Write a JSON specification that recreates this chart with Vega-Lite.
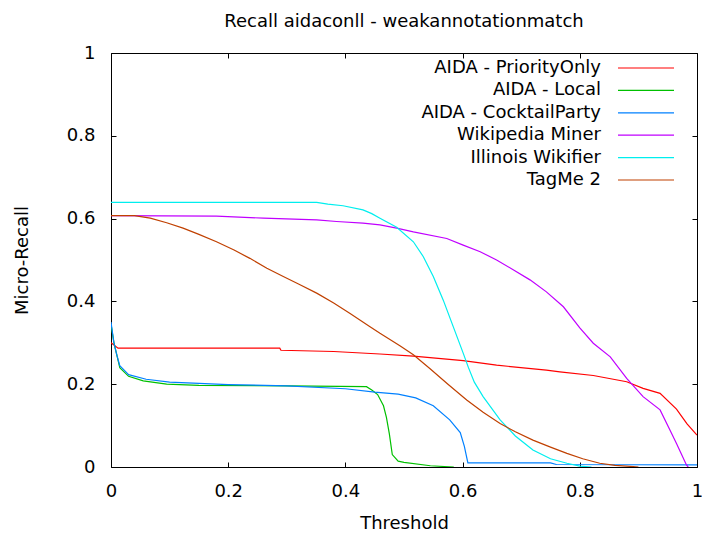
{
  "$schema": "https://vega.github.io/schema/vega-lite/v6.json",
  "width": 586,
  "height": 414,
  "autosize": {"type": "none"},
  "padding": {"left": 111, "top": 53, "right": 5, "bottom": 66},
  "background": "white",
  "title": {
    "text": "Recall aidaconll - weakannotationmatch",
    "font": "DejaVu Sans",
    "fontSize": 18,
    "fontWeight": "normal",
    "color": "black",
    "anchor": "middle",
    "offset": 13
  },
  "config": {
    "view": {"stroke": "black", "strokeWidth": 1},
    "axis": {
      "grid": false,
      "domain": false,
      "tickColor": "black",
      "tickSize": -5,
      "tickWidth": 1,
      "labelFlush": false,
      "labelFont": "DejaVu Sans",
      "labelFontSize": 18,
      "labelColor": "black",
      "titleFont": "DejaVu Sans",
      "titleFontSize": 18,
      "titleFontWeight": "normal",
      "titleColor": "black"
    },
    "legend": {
      "labelFont": "DejaVu Sans",
      "labelFontSize": 18,
      "labelColor": "black"
    }
  },
  "layer": [
    {
      "data": {
        "values": [
          {"m": "AIDA - PriorityOnly", "t": 0, "r": 0.30},
          {"m": "AIDA - PriorityOnly", "t": 0.012, "r": 0.287},
          {"m": "AIDA - PriorityOnly", "t": 0.288, "r": 0.287},
          {"m": "AIDA - PriorityOnly", "t": 0.29, "r": 0.282},
          {"m": "AIDA - PriorityOnly", "t": 0.38, "r": 0.279},
          {"m": "AIDA - PriorityOnly", "t": 0.459, "r": 0.273},
          {"m": "AIDA - PriorityOnly", "t": 0.516, "r": 0.268},
          {"m": "AIDA - PriorityOnly", "t": 0.601, "r": 0.257},
          {"m": "AIDA - PriorityOnly", "t": 0.658, "r": 0.246},
          {"m": "AIDA - PriorityOnly", "t": 0.743, "r": 0.234},
          {"m": "AIDA - PriorityOnly", "t": 0.766, "r": 0.23},
          {"m": "AIDA - PriorityOnly", "t": 0.823, "r": 0.221},
          {"m": "AIDA - PriorityOnly", "t": 0.88, "r": 0.206},
          {"m": "AIDA - PriorityOnly", "t": 0.908, "r": 0.19},
          {"m": "AIDA - PriorityOnly", "t": 0.937, "r": 0.178},
          {"m": "AIDA - PriorityOnly", "t": 0.965, "r": 0.14},
          {"m": "AIDA - PriorityOnly", "t": 0.983, "r": 0.104},
          {"m": "AIDA - PriorityOnly", "t": 1.0, "r": 0.077},

          {"m": "AIDA - Local", "t": 0, "r": 0.345},
          {"m": "AIDA - Local", "t": 0.005, "r": 0.3},
          {"m": "AIDA - Local", "t": 0.01, "r": 0.27},
          {"m": "AIDA - Local", "t": 0.015, "r": 0.24},
          {"m": "AIDA - Local", "t": 0.03, "r": 0.219},
          {"m": "AIDA - Local", "t": 0.055, "r": 0.208},
          {"m": "AIDA - Local", "t": 0.095, "r": 0.2},
          {"m": "AIDA - Local", "t": 0.15, "r": 0.197},
          {"m": "AIDA - Local", "t": 0.3, "r": 0.196},
          {"m": "AIDA - Local", "t": 0.436, "r": 0.194},
          {"m": "AIDA - Local", "t": 0.445, "r": 0.186},
          {"m": "AIDA - Local", "t": 0.455, "r": 0.175},
          {"m": "AIDA - Local", "t": 0.465, "r": 0.148},
          {"m": "AIDA - Local", "t": 0.47, "r": 0.12},
          {"m": "AIDA - Local", "t": 0.475, "r": 0.08},
          {"m": "AIDA - Local", "t": 0.48, "r": 0.03},
          {"m": "AIDA - Local", "t": 0.49, "r": 0.014},
          {"m": "AIDA - Local", "t": 0.5, "r": 0.011},
          {"m": "AIDA - Local", "t": 0.545, "r": 0.003},
          {"m": "AIDA - Local", "t": 0.585, "r": 0.0},

          {"m": "AIDA - CocktailParty", "t": 0, "r": 0.35},
          {"m": "AIDA - CocktailParty", "t": 0.005, "r": 0.3},
          {"m": "AIDA - CocktailParty", "t": 0.01, "r": 0.27},
          {"m": "AIDA - CocktailParty", "t": 0.015, "r": 0.245},
          {"m": "AIDA - CocktailParty", "t": 0.03, "r": 0.223},
          {"m": "AIDA - CocktailParty", "t": 0.06, "r": 0.212},
          {"m": "AIDA - CocktailParty", "t": 0.1, "r": 0.205},
          {"m": "AIDA - CocktailParty", "t": 0.2, "r": 0.199},
          {"m": "AIDA - CocktailParty", "t": 0.3, "r": 0.196},
          {"m": "AIDA - CocktailParty", "t": 0.4, "r": 0.189},
          {"m": "AIDA - CocktailParty", "t": 0.45, "r": 0.181},
          {"m": "AIDA - CocktailParty", "t": 0.49, "r": 0.176},
          {"m": "AIDA - CocktailParty", "t": 0.52, "r": 0.167},
          {"m": "AIDA - CocktailParty", "t": 0.55, "r": 0.148},
          {"m": "AIDA - CocktailParty", "t": 0.578, "r": 0.114},
          {"m": "AIDA - CocktailParty", "t": 0.596, "r": 0.083},
          {"m": "AIDA - CocktailParty", "t": 0.603, "r": 0.05},
          {"m": "AIDA - CocktailParty", "t": 0.609, "r": 0.01},
          {"m": "AIDA - CocktailParty", "t": 0.75, "r": 0.01},
          {"m": "AIDA - CocktailParty", "t": 0.76, "r": 0.006},
          {"m": "AIDA - CocktailParty", "t": 1.0, "r": 0.005},

          {"m": "Wikipedia Miner", "t": 0, "r": 0.607},
          {"m": "Wikipedia Miner", "t": 0.18, "r": 0.606},
          {"m": "Wikipedia Miner", "t": 0.26, "r": 0.601},
          {"m": "Wikipedia Miner", "t": 0.351, "r": 0.597},
          {"m": "Wikipedia Miner", "t": 0.385, "r": 0.593},
          {"m": "Wikipedia Miner", "t": 0.43, "r": 0.589},
          {"m": "Wikipedia Miner", "t": 0.459, "r": 0.585},
          {"m": "Wikipedia Miner", "t": 0.4875, "r": 0.577},
          {"m": "Wikipedia Miner", "t": 0.516, "r": 0.568},
          {"m": "Wikipedia Miner", "t": 0.573, "r": 0.552},
          {"m": "Wikipedia Miner", "t": 0.601, "r": 0.536},
          {"m": "Wikipedia Miner", "t": 0.63, "r": 0.52},
          {"m": "Wikipedia Miner", "t": 0.658, "r": 0.5},
          {"m": "Wikipedia Miner", "t": 0.687, "r": 0.476},
          {"m": "Wikipedia Miner", "t": 0.715, "r": 0.452},
          {"m": "Wikipedia Miner", "t": 0.743, "r": 0.423},
          {"m": "Wikipedia Miner", "t": 0.772, "r": 0.387},
          {"m": "Wikipedia Miner", "t": 0.8, "r": 0.336},
          {"m": "Wikipedia Miner", "t": 0.823, "r": 0.299},
          {"m": "Wikipedia Miner", "t": 0.852, "r": 0.266},
          {"m": "Wikipedia Miner", "t": 0.88, "r": 0.214},
          {"m": "Wikipedia Miner", "t": 0.908, "r": 0.17},
          {"m": "Wikipedia Miner", "t": 0.937, "r": 0.138},
          {"m": "Wikipedia Miner", "t": 0.954, "r": 0.089},
          {"m": "Wikipedia Miner", "t": 0.965, "r": 0.057},
          {"m": "Wikipedia Miner", "t": 0.982, "r": 0.005},
          {"m": "Wikipedia Miner", "t": 0.985, "r": 0.0},

          {"m": "Illinois Wikifier", "t": 0, "r": 0.639},
          {"m": "Illinois Wikifier", "t": 0.351, "r": 0.639},
          {"m": "Illinois Wikifier", "t": 0.37, "r": 0.635},
          {"m": "Illinois Wikifier", "t": 0.396, "r": 0.631},
          {"m": "Illinois Wikifier", "t": 0.43, "r": 0.621},
          {"m": "Illinois Wikifier", "t": 0.445, "r": 0.612},
          {"m": "Illinois Wikifier", "t": 0.459, "r": 0.601},
          {"m": "Illinois Wikifier", "t": 0.4875, "r": 0.579},
          {"m": "Illinois Wikifier", "t": 0.516, "r": 0.544},
          {"m": "Illinois Wikifier", "t": 0.533, "r": 0.508},
          {"m": "Illinois Wikifier", "t": 0.55, "r": 0.46},
          {"m": "Illinois Wikifier", "t": 0.567, "r": 0.403},
          {"m": "Illinois Wikifier", "t": 0.584, "r": 0.339},
          {"m": "Illinois Wikifier", "t": 0.601, "r": 0.275},
          {"m": "Illinois Wikifier", "t": 0.61, "r": 0.24},
          {"m": "Illinois Wikifier", "t": 0.62, "r": 0.205},
          {"m": "Illinois Wikifier", "t": 0.635, "r": 0.17},
          {"m": "Illinois Wikifier", "t": 0.664, "r": 0.114},
          {"m": "Illinois Wikifier", "t": 0.69, "r": 0.075},
          {"m": "Illinois Wikifier", "t": 0.72, "r": 0.041},
          {"m": "Illinois Wikifier", "t": 0.75, "r": 0.02},
          {"m": "Illinois Wikifier", "t": 0.778, "r": 0.009},
          {"m": "Illinois Wikifier", "t": 0.8, "r": 0.002},
          {"m": "Illinois Wikifier", "t": 0.82, "r": 0.0},

          {"m": "TagMe 2", "t": 0, "r": 0.607},
          {"m": "TagMe 2", "t": 0.04, "r": 0.607},
          {"m": "TagMe 2", "t": 0.067, "r": 0.601},
          {"m": "TagMe 2", "t": 0.095, "r": 0.59},
          {"m": "TagMe 2", "t": 0.123, "r": 0.577},
          {"m": "TagMe 2", "t": 0.15, "r": 0.562},
          {"m": "TagMe 2", "t": 0.18, "r": 0.544},
          {"m": "TagMe 2", "t": 0.21, "r": 0.524},
          {"m": "TagMe 2", "t": 0.237, "r": 0.504},
          {"m": "TagMe 2", "t": 0.266, "r": 0.48},
          {"m": "TagMe 2", "t": 0.294, "r": 0.46},
          {"m": "TagMe 2", "t": 0.32, "r": 0.442},
          {"m": "TagMe 2", "t": 0.351, "r": 0.42},
          {"m": "TagMe 2", "t": 0.38, "r": 0.396},
          {"m": "TagMe 2", "t": 0.408, "r": 0.371},
          {"m": "TagMe 2", "t": 0.442, "r": 0.339},
          {"m": "TagMe 2", "t": 0.459, "r": 0.323},
          {"m": "TagMe 2", "t": 0.493, "r": 0.293},
          {"m": "TagMe 2", "t": 0.516, "r": 0.271},
          {"m": "TagMe 2", "t": 0.544, "r": 0.238},
          {"m": "TagMe 2", "t": 0.575, "r": 0.2},
          {"m": "TagMe 2", "t": 0.607, "r": 0.162},
          {"m": "TagMe 2", "t": 0.635, "r": 0.132},
          {"m": "TagMe 2", "t": 0.664, "r": 0.105},
          {"m": "TagMe 2", "t": 0.69, "r": 0.085},
          {"m": "TagMe 2", "t": 0.72, "r": 0.065},
          {"m": "TagMe 2", "t": 0.75, "r": 0.048},
          {"m": "TagMe 2", "t": 0.778, "r": 0.033},
          {"m": "TagMe 2", "t": 0.805, "r": 0.02},
          {"m": "TagMe 2", "t": 0.834, "r": 0.009},
          {"m": "TagMe 2", "t": 0.86, "r": 0.004},
          {"m": "TagMe 2", "t": 0.891, "r": 0.001},
          {"m": "TagMe 2", "t": 0.9, "r": 0.0}
        ]
      },
      "mark": {"type": "line", "strokeWidth": 1.2, "clip": true},
      "encoding": {
        "x": {
          "field": "t",
          "type": "quantitative",
          "scale": {"domain": [0, 1], "nice": false, "zero": false},
          "axis": {
            "orient": "bottom",
            "values": [0, 0.2, 0.4, 0.6, 0.8, 1],
            "format": "~g",
            "labelPadding": 20,
            "title": "Threshold",
            "titlePadding": 14
          }
        },
        "y": {
          "field": "r",
          "type": "quantitative",
          "scale": {"domain": [0, 1], "nice": false, "zero": false},
          "axis": {
            "orient": "left",
            "values": [0, 0.2, 0.4, 0.6, 0.8, 1],
            "format": "~g",
            "labelPadding": 21,
            "title": "Micro-Recall",
            "titlePadding": 35
          }
        },
        "color": {
          "field": "m",
          "type": "nominal",
          "scale": {
            "domain": ["AIDA - PriorityOnly", "AIDA - Local", "AIDA - CocktailParty", "Wikipedia Miner", "Illinois Wikifier", "TagMe 2"],
            "range": ["#ff0000", "#00c000", "#0080ff", "#c000ff", "#00eeee", "#c04000"]
          },
          "legend": {
            "title": null,
            "orient": "none",
            "legendX": 526,
            "legendY": 6,
            "padding": 0,
            "symbolType": "M-4,0H4",
            "symbolSize": 196,
            "symbolStrokeWidth": 1.2,
            "rowPadding": 4.4,
            "labelAlign": "right",
            "labelOffset": -54,
            "labelLimit": 400
          }
        }
      }
    },
    {
      "data": {"values": [{"t": 0, "r": 0}]},
      "mark": {"type": "point", "opacity": 0},
      "encoding": {
        "x": {
          "field": "t",
          "type": "quantitative",
          "scale": {"domain": [0, 1], "nice": false, "zero": false},
          "axis": {
            "orient": "top",
            "values": [0, 0.2, 0.4, 0.6, 0.8, 1],
            "labels": false,
            "title": null
          }
        },
        "y": {
          "field": "r",
          "type": "quantitative",
          "scale": {"domain": [0, 1], "nice": false, "zero": false},
          "axis": {
            "orient": "right",
            "values": [0, 0.2, 0.4, 0.6, 0.8, 1],
            "labels": false,
            "title": null
          }
        }
      }
    }
  ],
  "resolve": {"axis": {"x": "independent", "y": "independent"}}
}
